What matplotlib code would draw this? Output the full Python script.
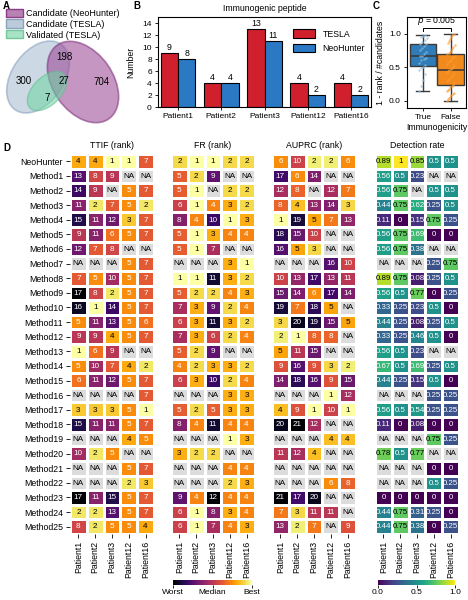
import numpy as np
import matplotlib
matplotlib.use("Agg")
import matplotlib.pyplot as plt
from matplotlib.patches import Ellipse, Patch
from matplotlib import colors as mcolors
from matplotlib.cm import ScalarMappable

plt.rcParams['font.family'] = ['Liberation Sans', 'DejaVu Sans']
plt.rcParams['font.size'] = 6.3

NA = np.nan

# ---- panel A: venn counts
venn_labels = ['Candidate (NeoHunter)', 'Candidate (TESLA)', 'Validated (TESLA)']
venn_counts = {'tesla_only': 300, 'neo_tesla': 198, 'all_three': 27, 'neo_only': 704, 'val_only': 7}

# ---- panel B: immunogenic peptides
bar_patients = ['Patient1', 'Patient2', 'Patient3', 'Patient12', 'Patient16']
tesla_counts = [9, 4, 13, 4, 4]
neohunter_counts = [8, 4, 11, 2, 2]

# ---- panel C: 1 - rank / #candidates
true_scores = [0.15, 0.22, 0.31, 0.40, 0.46, 0.49, 0.50, 0.53, 0.56, 0.60, 0.62, 0.64,
               0.66, 0.67, 0.69, 0.72, 0.75, 0.78, 0.81, 0.84, 0.85, 0.88, 0.90, 0.93,
               0.95, 0.97, 0.98]
false_scores = [0.00, 0.02, 0.04, 0.06, 0.08, 0.10, 0.12, 0.14, 0.16, 0.18, 0.20, 0.22,
                0.24, 0.27, 0.29, 0.31, 0.33, 0.35, 0.37, 0.39, 0.41, 0.43, 0.45, 0.46,
                0.47, 0.49, 0.51, 0.53, 0.55, 0.57, 0.59, 0.61, 0.63, 0.65, 0.67, 0.69,
                0.71, 0.72, 0.74, 0.77, 0.80, 0.83, 0.86, 0.89, 0.92, 0.95, 0.98, 1.00]
p_text = '$p$ = 0.005'

# ---- panel D: heatmaps
patients = ['Patient1', 'Patient2', 'Patient3', 'Patient12', 'Patient16']
methods = ['NeoHunter'] + ['Method%d' % i for i in range(1, 26)]

ttif = [
    [4, 4, 1, 1, 7], [13, 8, 9, NA, NA], [14, 9, NA, 5, 7], [11, 2, 7, 5, 2],
    [15, 11, 12, 3, 7], [9, 11, 6, 5, 7], [12, 7, 8, NA, NA], [NA, NA, NA, 5, 7],
    [7, 5, 10, 5, 7], [17, 8, 2, 5, 7], [16, 1, 14, 5, 7], [5, 11, 13, 5, 6],
    [9, 9, 4, 5, 7], [1, 6, 9, NA, NA], [5, 10, 7, 4, 2], [6, 11, 12, 5, 7],
    [NA, NA, NA, NA, 7], [3, 3, 3, 5, 1], [15, 11, 11, 5, 7], [NA, NA, NA, 4, 5],
    [10, 2, 5, NA, NA], [NA, NA, NA, 5, 7], [NA, NA, NA, 2, 3], [17, 11, 15, 5, 7],
    [2, 2, 13, 5, 7], [8, 2, 5, 5, 4],
]
fr = [
    [2, 1, 1, 2, 2], [5, 2, 9, NA, NA], [5, 1, NA, 2, 2], [6, 1, 4, 3, 2],
    [8, 4, 10, 1, 3], [5, 1, 3, 4, 4], [5, 1, 7, NA, NA], [NA, NA, NA, 3, 1],
    [1, 1, 11, 3, 2], [5, 2, 2, 4, 3], [7, 3, 9, 2, 4], [6, 3, 11, 3, 2],
    [7, 3, 6, 2, 4], [5, 2, 9, NA, NA], [4, 2, 3, 3, 2], [6, 3, 10, 2, 4],
    [NA, NA, NA, 3, 3], [5, 2, 5, 3, 3], [8, 4, 11, 4, 4], [NA, NA, NA, 1, 3],
    [3, 2, 2, NA, NA], [NA, NA, NA, 4, 4], [NA, NA, NA, 2, 3], [9, 4, 12, 4, 4],
    [6, 1, 8, 3, 4], [6, 1, 7, 4, 3],
]
auprc = [
    [6, 10, 2, 2, 6], [17, 6, 14, NA, NA], [12, 8, NA, 12, 7], [8, 4, 13, 14, 3],
    [1, 19, 5, 7, 13], [18, 15, 10, NA, NA], [16, 5, 3, NA, NA], [NA, NA, NA, 16, 10],
    [10, 13, 17, 13, 11], [15, 14, 6, 17, 14], [19, 7, 18, 5, NA], [3, 20, 19, 15, 5],
    [2, 1, 8, 8, NA], [5, 11, 15, NA, NA], [9, 16, 9, 3, 2], [14, 18, 16, 9, 15],
    [NA, NA, NA, 1, 12], [4, 9, 1, 10, 1], [20, 21, 12, NA, NA], [NA, NA, NA, 4, 4],
    [11, 12, 4, NA, NA], [NA, NA, NA, NA, NA], [NA, NA, NA, 6, 8], [21, 17, 20, NA, NA],
    [7, 3, 11, 11, NA], [13, 2, 7, NA, 9],
]
detection = [
    [0.89, 1, 0.85, 0.5, 0.5], [0.56, 0.5, 0.23, NA, NA], [0.56, 0.75, NA, 0.5, 0.5],
    [0.44, 0.75, 0.62, 0.25, 0.5], [0.11, 0, 0.15, 0.75, 0.25], [0.56, 0.75, 0.69, 0, 0],
    [0.56, 0.75, 0.38, NA, NA], [NA, NA, NA, 0.25, 0.75], [0.89, 0.75, 0.08, 0.25, 0.5],
    [0.56, 0.5, 0.77, 0, 0.25], [0.33, 0.25, 0.23, 0.5, 0], [0.44, 0.25, 0.08, 0.25, 0.5],
    [0.33, 0.25, 0.46, 0.5, 0], [0.56, 0.5, 0.23, NA, NA], [0.67, 0.5, 0.69, 0.25, 0.5],
    [0.44, 0.25, 0.15, 0.5, 0], [NA, NA, NA, 0.25, 0.25], [0.56, 0.5, 0.54, 0.25, 0.25],
    [0.11, 0, 0.08, 0, 0], [NA, NA, NA, 0.75, 0.25], [0.78, 0.5, 0.77, NA, NA],
    [NA, NA, NA, 0, 0], [NA, NA, NA, 0.5, 0.25], [0, 0, 0, 0, 0],
    [0.44, 0.75, 0.31, 0.25, 0], [0.44, 0.75, 0.38, 0, 0.25],
]

W, H = 468, 600
fig = plt.figure(figsize=(W / 100, H / 100), dpi=100)


def px_axes(x0, y0, x1, y1):
    # axes from pixel box (top-left origin)
    return fig.add_axes([x0 / W, 1 - y1 / H, (x1 - x0) / W, (y1 - y0) / H])


# ================= A: venn
axA = px_axes(0, 0, 140, 140)
axA.set_xlim(0, 140)
axA.set_ylim(0, 140)
axA.axis('off')
e_tesla = Ellipse((38, 63), 80, 52, angle=55, facecolor='#8fa9c4', alpha=0.45,
                  edgecolor='#6f8fb0', lw=1.2)
e_neo = Ellipse((83, 58), 90, 60, angle=-55, facecolor='#95408f', alpha=0.55,
                edgecolor='#7a2a78', lw=1.2)
e_val = Ellipse((47, 49), 48, 28, angle=45, facecolor='#6fd6a2', alpha=0.55,
                edgecolor='#5cbf8c', lw=1.0)
for e in (e_tesla, e_neo, e_val):
    axA.add_patch(e)
axA.text(64, 140 - 57, str(venn_counts['neo_tesla']), ha='center', va='center', fontsize=7)
axA.text(24, 140 - 81, str(venn_counts['tesla_only']), ha='center', va='center', fontsize=7)
axA.text(64, 140 - 81, str(venn_counts['all_three']), ha='center', va='center', fontsize=7)
axA.text(102, 140 - 82, str(venn_counts['neo_only']), ha='center', va='center', fontsize=7)
axA.text(47, 140 - 98, str(venn_counts['val_only']), ha='center', va='center', fontsize=7)
handles = [Patch(facecolor='#b883b4', edgecolor='#8b3d88', label=venn_labels[0]),
           Patch(facecolor='#bccbdb', edgecolor='#8aa3bd', label=venn_labels[1]),
           Patch(facecolor='#a7e3c4', edgecolor='#74c79c', label=venn_labels[2])]
axA.legend(handles=handles, loc='upper left', bbox_to_anchor=(0.015, 0.965), frameon=False,
           fontsize=6.5, handlelength=1.9, handleheight=1.0, labelspacing=0.2,
           handletextpad=0.35, borderaxespad=0)

# ================= B: bars
axB = px_axes(158, 17, 371, 107)
x = np.arange(len(bar_patients))
bw = 0.4
b1 = axB.bar(x - bw / 2, tesla_counts, bw, color='#d0202e', edgecolor='black', lw=0.8,
             label='TESLA')
b2 = axB.bar(x + bw / 2, neohunter_counts, bw, color='#2b79c5', edgecolor='black', lw=0.8,
             label='NeoHunter')
for bars in (b1, b2):
    for r in bars:
        axB.text(r.get_x() + r.get_width() / 2, r.get_height() + 0.15, '%d' % r.get_height(),
                 ha='center', va='bottom', fontsize=6.3)
axB.set_xlim(-0.46, 4.46)
axB.set_ylim(0, 15)
axB.set_yticks(range(0, 15, 2))
axB.set_xticks(x)
axB.set_xticklabels(bar_patients)
axB.tick_params(labelsize=6, length=2.5, width=0.6, pad=2)
axB.set_ylabel('Number', fontsize=6.3, labelpad=5)
axB.set_title('Immunogenic peptide', fontsize=6.3, pad=4)
axB.legend(loc='upper right', bbox_to_anchor=(1.0, 0.93), frameon=False, fontsize=6.3,
           handlelength=2.6, handleheight=1.1, labelspacing=0.6, borderaxespad=0.3)
for s in axB.spines.values():
    s.set_linewidth(0.8)

# ================= C: box
axC = px_axes(407, 17, 466, 108)
bp = axC.boxplot([true_scores, false_scores], positions=[0, 1], widths=0.95,
                 patch_artist=True, showfliers=False,
                 medianprops=dict(color='#3b3b3b', lw=1.2),
                 whiskerprops=dict(color='#3b3b3b', lw=1.0),
                 capprops=dict(color='#3b3b3b', lw=1.0),
                 boxprops=dict(edgecolor='#3b3b3b', lw=1.0))
for patch, c in zip(bp['boxes'], ['#2f7cb8', '#f28a1e']):
    patch.set_facecolor(c)
for k, (vals, c) in enumerate([(true_scores, '#8cc0e4'), (false_scores, '#ff9a2e')]):
    n = len(vals)
    offs = np.array([((i * 7) % n) / n - 0.5 for i in range(n)]) * 0.3
    axC.scatter(k + offs, vals, s=3, color=c, alpha=0.7, lw=0, zorder=3)
axC.plot([0, 0, 1, 1], [1.04, 1.09, 1.09, 1.04], color='black', lw=0.7)
axC.text(0.5, 1.1, p_text, ha='center', va='bottom', fontsize=6.3)
axC.set_xlim(-0.57, 1.55)
axC.set_ylim(-0.11, 1.25)
axC.set_yticks([0.0, 0.5, 1.0])
axC.set_xticks([0, 1])
axC.set_xticklabels(['True', 'False'])
axC.set_xlabel('Immunogenicity', fontsize=6.3, labelpad=1)
axC.set_ylabel('1 - rank / #candidates', fontsize=6.3, labelpad=3)
axC.tick_params(labelsize=6, length=2.5, width=0.6, pad=2)
for s in axC.spines.values():
    s.set_linewidth(0.8)

# ================= D: heatmaps
rank_cmap = plt.get_cmap('inferno_r').with_extremes(bad='#dcdcdc')
det_cmap = plt.get_cmap('viridis').with_extremes(bad='#dcdcdc')


def draw_heat(ax, data, cmap, norm, title, is_rank, show_rows):
    arr = np.array(data, dtype=float)
    ax.pcolormesh(np.ma.masked_invalid(arr), cmap=cmap, norm=norm,
                  edgecolors='white', linewidth=1.0)
    ax.set_xlim(0, arr.shape[1])
    ax.set_ylim(arr.shape[0], 0)
    fs = 5.9 if is_rank else 5.7
    for i in range(arr.shape[0]):
        for j in range(arr.shape[1]):
            v = arr[i, j]
            if np.isnan(v):
                ax.text(j + 0.5, i + 0.52, 'NA', ha='center', va='center', fontsize=fs,
                        color='black')
                continue
            if is_rank:
                txt = '%d' % v
                dark = norm(v) > 0.23
            else:
                txt = '%g' % v
                dark = v < 0.72
            ax.text(j + 0.5, i + 0.52, txt, ha='center', va='center', fontsize=fs,
                    color='white' if dark else 'black')
    ax.set_xticks(np.arange(arr.shape[1]) + 0.5)
    ax.set_xticklabels(patients, rotation=90)
    ax.set_yticks(np.arange(arr.shape[0]) + 0.5)
    if show_rows:
        ax.set_yticklabels(methods)
        ax.tick_params(axis='y', length=3, width=0.6, labelsize=6.3, pad=2)
    else:
        ax.tick_params(axis='y', left=False, labelleft=False)
    ax.tick_params(axis='x', length=3, width=0.6, labelsize=6.3, pad=2)
    for s in ax.spines.values():
        s.set_visible(False)
    ax.set_title(title, fontsize=6.3, pad=4)


heat_specs = [
    (70, ttif, 'TTIF (rank)', True),
    (171, fr, 'FR (rank)', True),
    (272, auprc, 'AUPRC (rank)', True),
    (375, detection, 'Detection rate', False),
]
for k, (x0, data, title, is_rank) in enumerate(heat_specs):
    ax = px_axes(x0, 154, x0 + 84, 534)
    if is_rank:
        norm = mcolors.Normalize(1, np.nanmax(np.array(data, dtype=float)))
        draw_heat(ax, data, rank_cmap, norm, title, True, k == 0)
    else:
        draw_heat(ax, data, det_cmap, mcolors.Normalize(0, 1), title, False, False)

# colorbars
cax1 = px_axes(173, 580, 252, 585)
cb1 = fig.colorbar(ScalarMappable(norm=mcolors.Normalize(0, 1), cmap='inferno'), cax=cax1,
                   orientation='horizontal')
cb1.set_ticks([0, 0.5, 1])
cb1.set_ticklabels(['Worst', 'Median', 'Best'])
cb1.outline.set_visible(False)
cax1.tick_params(labelsize=6, length=2, width=0.6, pad=1)

cax2 = px_axes(378, 580, 455, 585)
cb2 = fig.colorbar(ScalarMappable(norm=mcolors.Normalize(0, 1), cmap='viridis'), cax=cax2,
                   orientation='horizontal')
cb2.set_ticks([0, 0.5, 1])
cb2.set_ticklabels(['0.0', '0.5', '1.0'])
cb2.outline.set_visible(False)
cax2.tick_params(labelsize=6, length=2, width=0.6, pad=1)

# panel letters
for lab, px, py in [('A', 3, 6), ('B', 133, 6), ('C', 373, 6), ('D', 3, 148)]:
    fig.text(px / W, 1 - py / H, lab, fontsize=7, fontweight='bold', ha='left', va='center')

fig.savefig('out.png', dpi=100)
